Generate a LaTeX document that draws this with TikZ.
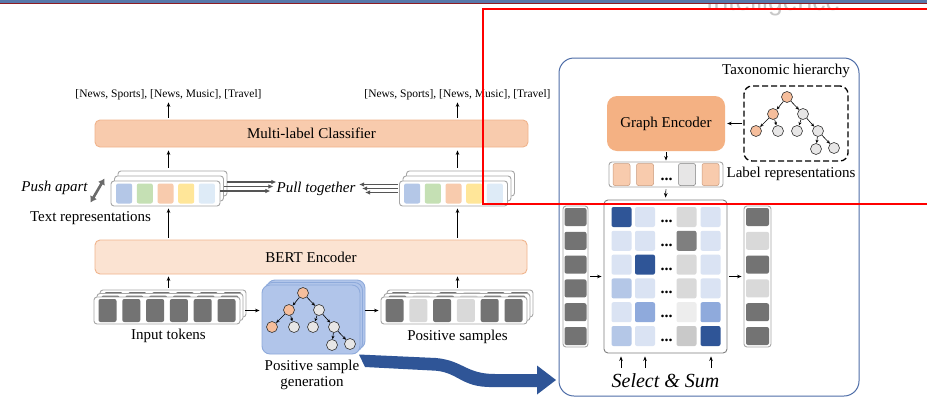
\documentclass[tikz,border=0pt]{standalone}
\usepackage{fontspec}
\setmainfont{Liberation Serif}
\newfontfamily\bannerfont{Liberation Sans}
\usetikzlibrary{arrows.meta,calc}

\definecolor{peach}{HTML}{F8CBAD}
\definecolor{peachlight}{HTML}{FBE3D2}
\definecolor{peachedge}{HTML}{F0B48C}
\definecolor{encfill}{HTML}{F4B183}
\definecolor{stackedge}{HTML}{A6A6A6}
\definecolor{tokdark}{HTML}{737373}
\definecolor{toklight}{HTML}{D9D9D9}
\definecolor{repblue}{HTML}{B4C7E7}
\definecolor{repgreen}{HTML}{C5E0B4}
\definecolor{reporange}{HTML}{F8CBAD}
\definecolor{repyellow}{HTML}{FFE699}
\definecolor{repsky}{HTML}{DEEBF7}
\definecolor{genfill}{HTML}{B1C5EA}
\definecolor{genedge}{HTML}{8EAADB}
\definecolor{nodeorange}{HTML}{F6BE9C}
\definecolor{nodegray}{HTML}{E7E6E6}
\definecolor{panelblue}{HTML}{4F6EA8}
\definecolor{flowblue}{HTML}{2F5597}
\definecolor{wpale}{HTML}{DAE3F3}
\definecolor{wmid}{HTML}{B4C7E7}
\definecolor{wmed}{HTML}{8FAADC}
\definecolor{wdark}{HTML}{2F5597}
\definecolor{glight}{HTML}{D9D9D9}
\definecolor{gdark}{HTML}{7F7F7F}
\definecolor{gfaint}{HTML}{EDEDED}
\definecolor{gmid}{HTML}{C9C9C9}
\definecolor{pullgray}{HTML}{555555}
\definecolor{pushgray}{HTML}{6A6A6A}
\definecolor{bannerblue}{HTML}{5878AA}
\definecolor{bannerred}{HTML}{8E1C22}
\definecolor{bannertext}{HTML}{C8C8C8}
\definecolor{marker}{HTML}{FF0000}
\definecolor{orangeedge}{HTML}{C99A7C}

% one layer of a token stack: box plus six blocks
\newcommand\tokenrow[3]{%
  \node[stackbox, minimum width=146pt, minimum height=27pt] (#1) at (#2) {};
  \foreach \c [count=\i] in {#3}
    \node[cell, fill=\c, minimum width=18pt, minimum height=23pt] (#1-\i) at ($(#1.center)+({(\i-3.5)*23.8},0)$) {};
}

\tikzset{
  hier/.pic={
    \node[tno] (-r) at (0,0) {};
    \node[tno] (-a) at (-14,17) {};
    \node[tng] (-b) at (16,17) {};
    \node[tno] (-aa) at (-31,34) {};
    \node[tng] (-ab) at (-9,34) {};
    \node[tng] (-ba) at (10,34) {};
    \node[tng] (-bb) at (31,34) {};
    \node[tng] (-bba) at (29,52) {};
    \node[tng] (-bbb) at (47,51) {};
    \draw[tarr] (-r) -- (-a);
    \draw[tarr] (-r) -- (-b);
    \draw[tarr] (-a) -- (-aa);
    \draw[tarr] (-a) -- (-ab);
    \draw[tarr] (-b) -- (-ba);
    \draw[tarr] (-b) -- (-bb);
    \draw[tarr] (-bb) -- (-bba);
    \draw[tarr] (-bb) -- (-bbb);
  }
}

\begin{document}
\begin{tikzpicture}[x=1pt, y=-1pt,
  txt/.style={font=\fontsize{15}{17}\selectfont, inner sep=0pt},
  ittxt/.style={font=\fontsize{15}{17}\selectfont\itshape, inner sep=0pt},
  smalltxt/.style={font=\fontsize{11.5}{13}\selectfont, inner sep=0pt},
  dotstxt/.style={font=\fontsize{16}{16}\selectfont\bfseries, inner sep=0pt},
  arr/.style={-{Stealth[length=4.5pt,width=3.6pt]}, line width=0.7pt, shorten <=2pt, shorten >=2pt},
  tarr/.style={-{Stealth[length=3.5pt,width=3pt]}, line width=0.6pt},
  tnode/.style={circle, draw=black!80, line width=0.6pt, minimum size=11pt, inner sep=0pt},
  tno/.style={tnode, fill=nodeorange},
  tng/.style={tnode, fill=nodegray},
  stackbox/.style={draw=stackedge, fill=white, rounded corners=3pt, line width=0.9pt, inner sep=0pt},
  cell/.style={rounded corners=2pt, inner sep=0pt, draw=none},
  genbox/.style={draw=genedge, fill=genfill, rounded corners=8pt, line width=0.9pt, inner sep=0pt},
  peachbox/.style={draw=peachedge, rounded corners=5pt, line width=0.9pt},
  pullarr/.style={draw=pullgray, line width=1.6pt, -{Latex[length=5pt,width=4.5pt]}},
]
\useasboundingbox (0,0) rectangle (927,397);
\clip (0,0) rectangle (927,397);
\fill[white] (0,0) rectangle (927,397);

% ---------- banner ----------
\node[anchor=base west, font=\bannerfont\fontsize{26.5}{28}\selectfont, text=bannertext, inner sep=0pt] (banner) at (706,10.5) {Intelligence};
\fill[bannerblue] (0,0) rectangle (927,2.5);
\fill[bannerred] (0,2.5) rectangle (927,4);

% ---------- text encoder side ----------
\node[smalltxt] (lab1) at (168.5,95) {[News, Sports], [News, Music], [Travel]};
\node[smalltxt] (lab2) at (457.5,95) {[News, Sports], [News, Music], [Travel]};

\node[peachbox, fill=peach, minimum width=433pt, minimum height=27pt, txt] (cls) at (311.5,133.5) {Multi-label Classifier};
\node[peachbox, fill=peachlight, minimum width=432pt, minimum height=34pt, txt] (bert) at (311,257) {BERT Encoder};

% text representation stacks
\node[stackbox, minimum width=109pt, minimum height=25pt] (trL2) at (172.5,183.5) {};
\node[stackbox, minimum width=109pt, minimum height=25pt] (trL1) at (169,188.5) {};
\node[stackbox, minimum width=109pt, minimum height=25pt] (trL) at (165.5,193.5) {};
\foreach \c [count=\i] in {repblue,repgreen,reporange,repyellow,repsky}
  \node[cell, fill=\c, minimum width=16pt, minimum height=20pt] (trL-\i) at ($(trL.center)+({(\i-3)*20.7},0)$) {};

\node[stackbox, minimum width=108pt, minimum height=25pt] (trR2) at (460.5,183.5) {};
\node[stackbox, minimum width=108pt, minimum height=25pt] (trR1) at (457,188.5) {};
\node[stackbox, minimum width=108pt, minimum height=25pt] (trR) at (453.5,193.5) {};
\foreach \c [count=\i] in {repblue,repgreen,reporange,repyellow,repsky}
  \node[cell, fill=\c, minimum width=16pt, minimum height=20pt] (trR-\i) at ($(trR.center)+({(\i-3)*20.7},0)$) {};

\node[ittxt] (push) at (54.5,188) {Push apart};
\node[txt] (trlabel) at (90.5,218) {Text representations};
\node[ittxt] (pull) at (316,189) {Pull together};

\coordinate (pa1) at (90.5,202.5);
\coordinate (pa2) at (104.5,178.5);
\draw[draw=pushgray, line width=2.6pt, {Latex[length=6pt,width=8pt]}-{Latex[length=6pt,width=8pt]}] (pa1) -- (pa2);

% pulling arrows towards the label
\draw[pullarr] ($(trL2.east)+(0,-1.5)$) -- ($(trL2.east)+(49,-1.5)$);
\draw[pullarr] ($(trL1.east)+(0,-2)$) -- ($(trL1.east)+(49.5,-2)$);
\draw[pullarr] ($(trL.east)+(0,-2.5)$) -- ($(trL.east)+(50,-2.5)$);
\draw[pullarr] ($(trR.west)+(-1,-9)$) -- ($(trR.west)+(-40,-9)$);
\draw[pullarr] ($(trR.west)+(-1,-5)$) -- ($(trR.west)+(-37,-5)$);
\draw[pullarr] ($(trR.west)+(-1,-1)$) -- ($(trR.west)+(-34,-1)$);

% token stacks
\tokenrow{tok2}{173,303.5}{tokdark,tokdark,tokdark,tokdark,tokdark,tokdark}
\tokenrow{tok1}{170,307}{tokdark,tokdark,tokdark,tokdark,tokdark,tokdark}
\tokenrow{tok}{167,310.5}{tokdark,tokdark,tokdark,tokdark,tokdark,tokdark}
\node[txt] (toklabel) at (168.5,336) {Input tokens};

\tokenrow{pos2}{460,303.5}{tokdark,toklight,tokdark,toklight,tokdark,tokdark}
\tokenrow{pos1}{457,307}{tokdark,toklight,tokdark,toklight,tokdark,tokdark}
\tokenrow{pos}{454,310.5}{tokdark,toklight,tokdark,toklight,tokdark,tokdark}
\node[txt] (poslabel) at (457.5,337) {Positive samples};

% flow towards the selection panel
\fill[flowblue] (359,354.5) -- (436,358) .. controls (463,360.5) and (466,374) .. (495,374) -- (537,374) -- (537,365.5) -- (556,380) -- (537,394.5) -- (537,387) -- (492,387) .. controls (460,387.5) and (458,371) .. (432,370.5) -- (365,367) -- cycle;

% positive sample generation
\node[genbox, minimum width=98pt, minimum height=69pt] (tg2) at (316,314.5) {};
\node[genbox, minimum width=98pt, minimum height=69pt] (tg1) at (313.5,317) {};
\node[genbox, minimum width=98pt, minimum height=69pt] (tg) at (311,319.5) {};
\pic (T1) at (303,293) {hier};
\node[txt, align=center] (tglabel) at (312,375) {Positive sample\\[-1pt]generation};

% connectors of the text side
\draw[arr] (cls.north -| lab1) -- (lab1.south);
\draw[arr] (cls.north -| lab2) -- (lab2.south);
\draw[arr, shorten <=3pt, shorten >=3pt] (trL2.north -| lab1) -- (cls.south -| lab1);
\draw[arr, shorten <=3pt, shorten >=3pt] (trR2.north -| lab2) -- (cls.south -| lab2);
\draw[arr] (bert.north -| lab1) -- (trL.south -| lab1);
\draw[arr] (bert.north -| lab2) -- (trR.south -| lab2);
\draw[arr] (tok2.north -| lab1) -- (bert.south -| lab1);
\draw[arr] (pos2.north -| lab2) -- (bert.south -| lab2);
\draw[arr] (tok1.east |- tok.east) -- (tg.west |- tok.east);
\draw[arr] (tg1.east |- pos.west) -- (pos.west);

% ---------- label side panel ----------
\node[draw=panelblue, rounded corners=15pt, line width=1pt, minimum width=300pt, minimum height=338pt, inner sep=0pt] (panel) at (709,227) {};

\node[txt] (taxlabel) at (786,71) {Taxonomic hierarchy};
\node[draw=black, dashed, dash pattern=on 6pt off 3pt, line width=1.3pt, rounded corners=8pt, minimum width=104pt, minimum height=75pt, inner sep=0pt] (tax) at (796,123.5) {};
\pic (T2) at (787,97) {hier};

\node[fill=encfill, rounded corners=10pt, minimum width=118pt, minimum height=55pt, txt] (genc) at (666,123.5) {Graph Encoder};

\node[stackbox, minimum width=114pt, minimum height=25pt] (lrep) at (666,174.5) {};
\foreach \c/\dx [count=\i] in {reporange/-44.5, reporange/-21, reporange/44.5}
  \node[cell, fill=\c, draw=orangeedge, line width=0.5pt, minimum width=17pt, minimum height=22pt] (lrep-\i) at ($(lrep.center)+(\dx,0)$) {};
\node[cell, fill=nodegray, draw=gray, line width=0.5pt, minimum width=17pt, minimum height=22pt] (lrep-g) at ($(lrep.center)+(21,0)$) {};
\node[dotstxt] (lrep-dots) at ($(lrep.center)+(0.5,4.5)$) {...};
\node[txt] (lreplabel) at (791,174) {Label representations};

% selection matrix
\node[stackbox, draw=gdark, rounded corners=4pt, minimum width=123pt, minimum height=153pt] (mx) at (665.5,276.5) {};
\foreach \row [count=\r] in {{wdark,wpale,glight,wpale},{wpale,wpale,gdark,wpale},{wpale,wdark,glight,wpale},{wmid,wpale,glight,wpale},{wpale,wmed,gfaint,wmed},{wmid,wpale,gmid,wdark}} {
  \node[dotstxt] (mx-d\r) at ($(mx.center)+(1,{(\r-3.5)*23.8+4.5})$) {...};
  \foreach \c [count=\k] in \row {
    \pgfmathsetmacro\cx{{-44,-20.5,21,45}[\k-1]}
    \node[cell, fill=\c, minimum size=20pt] (mx-\r-\k) at ($(mx.center)+(\cx,{(\r-3.5)*23.8})$) {};
  }
}

\node[stackbox, minimum width=25pt, minimum height=141pt] (lc) at (575.5,276.5) {};
\foreach \r in {1,...,6}
  \node[cell, fill=tokdark, minimum width=22pt, minimum height=18pt] (lc-\r) at ($(lc.center)+(0,{(\r-3.5)*23.8})$) {};
\node[stackbox, minimum width=27pt, minimum height=141pt] (rc) at (757.5,276.5) {};
\foreach \c [count=\r] in {tokdark,toklight,tokdark,toklight,tokdark,tokdark}
  \node[cell, fill=\c, minimum width=23pt, minimum height=18pt] (rc-\r) at ($(rc.center)+(0,{(\r-3.5)*23.8})$) {};

\coordinate (sel1) at (621,368);
\coordinate (sel2) at (645,368);
\coordinate (sel3) at (711,368);
\node[font=\fontsize{20}{22}\selectfont\itshape, inner sep=0pt] (selsum) at (665.5,381) {Select \& Sum};

% connectors of the label side
\draw[arr, shorten <=1pt] (tax.west) -- (genc.east);
\draw[arr, shorten <=1pt, shorten >=1pt] (genc.south) -- (lrep.north);
\draw[arr] (lrep.south) -- (mx.north);
\draw[arr] (lc.east) -- (mx.west);
\draw[arr] (mx.east) -- (rc.west);
\draw[arr, shorten <=0pt, shorten >=3pt] (sel1) -- (sel1 |- mx.south);
\draw[arr, shorten <=0pt, shorten >=3pt] (sel2) -- (sel2 |- mx.south);
\draw[arr, shorten <=0pt, shorten >=3pt] (sel3) -- (sel3 |- mx.south);

% ---------- highlight frame ----------
\draw[marker, line width=2pt] (483,9) rectangle (940,204);
\end{tikzpicture}
\end{document}
